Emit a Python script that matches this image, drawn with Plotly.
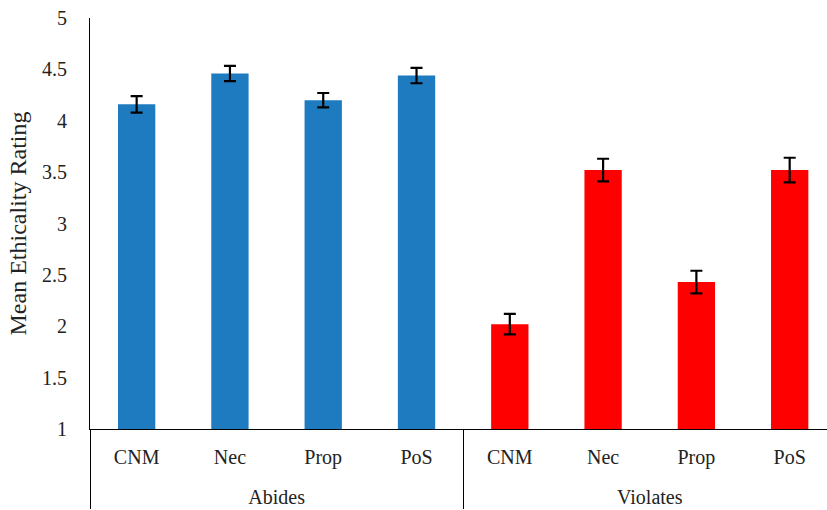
import plotly.graph_objects as go

# Mean ethicality ratings by justification type and rule condition
groups = ["Abides", "Violates"]
categories = ["CNM", "Nec", "Prop", "PoS"]
abides_means = [4.16, 4.46, 4.20, 4.44]
abides_err = [0.08, 0.075, 0.07, 0.075]
violates_means = [2.02, 3.52, 2.43, 3.52]
violates_err = [0.10, 0.11, 0.11, 0.12]
y_ticks = [1, 1.5, 2, 2.5, 3, 3.5, 4, 4.5, 5]
y_ticklabels = ["1", "1.5", "2", "2.5", "3", "3.5", "4", "4.5", "5"]

font_family = "Liberation Serif"

# an extra blank line under each category label pushes the group row lower
cat_labels = [c + "<br>&#160;" for c in categories]

fig = go.Figure()

fig.add_trace(go.Bar(
    x=[[groups[0]] * len(categories), cat_labels],
    y=abides_means,
    marker=dict(color="#1F7BC0", line=dict(width=0)),
    width=0.4,
    error_y=dict(type="data", array=abides_err, color="black", thickness=2.2, width=6),
    showlegend=False,
))
fig.add_trace(go.Bar(
    x=[[groups[1]] * len(categories), cat_labels],
    y=violates_means,
    marker=dict(color="#FF0000", line=dict(width=0)),
    width=0.4,
    error_y=dict(type="data", array=violates_err, color="black", thickness=2.2, width=6),
    showlegend=False,
))

fig.update_layout(
    width=827,
    height=510,
    margin=dict(l=90, r=0, t=18, b=81),
    paper_bgcolor="white",
    plot_bgcolor="white",
    barmode="overlay",
    font=dict(family=font_family, size=20, color="#222222"),
    yaxis=dict(
        range=[1, 5],
        tickvals=y_ticks,
        ticktext=y_ticklabels,
        showgrid=False,
        zeroline=False,
        showline=True,
        linecolor="black",
        linewidth=1,
        ticks="",
        ticklabelstandoff=18,
        tickfont=dict(size=20),
        title=dict(text="Mean Ethicality Rating", font=dict(size=24), standoff=8),
    ),
    xaxis=dict(
        type="multicategory",
        range=[-0.5, 7.4],
        showgrid=False,
        zeroline=False,
        showline=True,
        linecolor="black",
        linewidth=1,
        showdividers=True,
        dividercolor="black",
        dividerwidth=1,
        ticklabelstandoff=10,
        tickfont=dict(size=20),
    ),
)

fig.write_html("out.html")
